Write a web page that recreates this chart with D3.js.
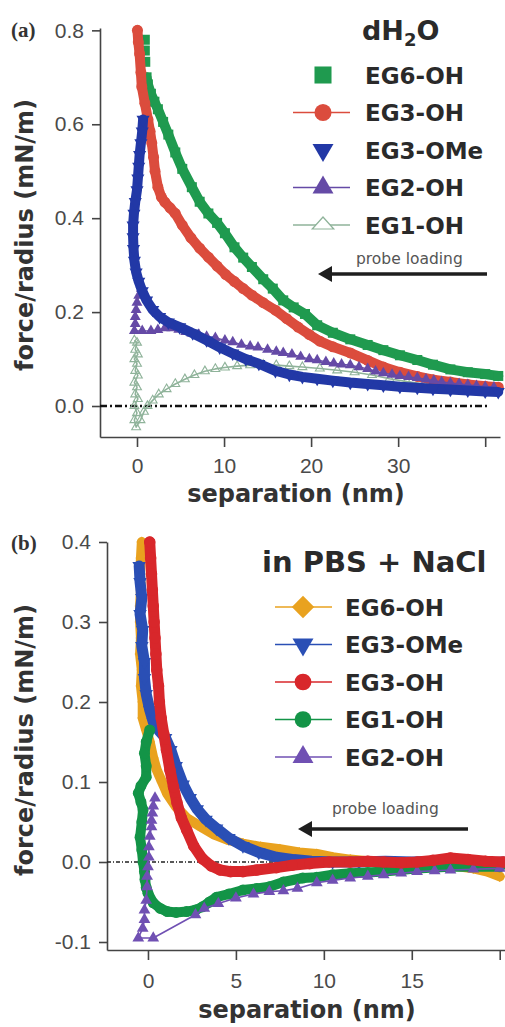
<!DOCTYPE html>
<html>
<head>
<meta charset="utf-8">
<script src="https://cdn.jsdelivr.net/npm/d3@7"></script>
<style>
  html, body { margin: 0; padding: 0; background: #fff; }
  svg { display: block; }
</style>
</head>
<body>
<svg id="fig" width="505" height="1027"></svg>
<script>
// ---------- Panel (a): force/radius vs separation in dH2O ----------
// [separation (nm), force/radius (mN/m)]
const aEG6_OH = [[0.9,0.78],[0.9,0.757],[0.95,0.733],[1.1,0.70],[1.25,0.685],[1.6,0.665],[2.0,0.648],[2.4,0.632],[3.0,0.605],[3.6,0.578],[4.4,0.54],[5.2,0.505],[6.3,0.466],[7.2,0.435],[8.2,0.41],[9.2,0.39],[10.1,0.368],[11.2,0.338],[12.2,0.316],[13.2,0.296],[14.5,0.27],[15.6,0.25],[16.8,0.225],[18.0,0.21],[19.3,0.196],[20.7,0.172],[22.5,0.156],[24.5,0.142],[26.5,0.13],[28.3,0.119],[30.2,0.108],[32.2,0.098],[34.0,0.088],[36.0,0.078],[38.0,0.072],[40.0,0.068],[41.5,0.064]];
const aEG3_OH = [[0.05,0.80],[0.15,0.775],[0.3,0.75],[0.45,0.71],[0.55,0.68],[0.9,0.645],[1.26,0.61],[1.5,0.585],[1.7,0.56],[1.9,0.53],[2.07,0.50],[2.4,0.466],[2.8,0.445],[3.2,0.434],[3.8,0.422],[4.4,0.41],[5.2,0.385],[6.2,0.358],[7.2,0.336],[8.2,0.317],[9.2,0.298],[10.2,0.28],[11.2,0.265],[12.2,0.25],[13.2,0.236],[14.5,0.22],[15.9,0.204],[17.2,0.186],[18.5,0.168],[19.8,0.152],[21.0,0.138],[22.5,0.126],[24.5,0.113],[26.5,0.097],[28.3,0.083],[30.2,0.072],[32.2,0.063],[34.0,0.056],[36.0,0.051],[38.0,0.046],[40.0,0.042],[41.5,0.04]];
const aEG3_OMe = [[0.7,0.61],[0.6,0.585],[0.45,0.56],[0.3,0.535],[0.2,0.51],[0.1,0.485],[0.0,0.46],[-0.2,0.435],[-0.35,0.41],[-0.45,0.385],[-0.45,0.36],[-0.4,0.335],[-0.3,0.31],[-0.1,0.285],[0.2,0.265],[0.6,0.245],[1.1,0.225],[1.8,0.205],[2.6,0.19],[3.6,0.178],[4.9,0.168],[6.4,0.155],[8.0,0.14],[9.5,0.125],[11.0,0.112],[12.5,0.1],[14.0,0.09],[15.9,0.075],[17.5,0.067],[19.0,0.062],[20.7,0.058],[22.5,0.054],[24.5,0.05],[26.5,0.047],[28.3,0.044],[30.2,0.041],[32.2,0.039],[34.0,0.037],[36.0,0.035],[38.0,0.033],[40.0,0.031],[41.5,0.03]];
const aEG2_OH = [[0.5,0.25],[0.2,0.235],[0.0,0.22],[-0.1,0.205],[-0.2,0.19],[-0.2,0.175],[-0.3,0.16],[0.6,0.16],[1.6,0.16],[2.4,0.162],[3.2,0.166],[4.0,0.166],[4.8,0.163],[5.6,0.158],[6.3,0.155],[7.1,0.152],[8.0,0.148],[9.0,0.145],[10.1,0.14],[11.0,0.136],[12.0,0.131],[13.0,0.127],[13.9,0.125],[15.0,0.12],[16.0,0.116],[16.8,0.113],[17.8,0.11],[18.8,0.105],[19.8,0.1],[20.7,0.098],[21.7,0.094],[22.6,0.091],[23.5,0.089],[24.5,0.087],[25.5,0.083],[26.5,0.079],[27.4,0.074],[28.3,0.07],[29.3,0.067],[30.2,0.064],[31.2,0.062],[32.2,0.06],[33.2,0.057],[34.1,0.054],[35.0,0.051],[36.0,0.049],[37.0,0.047],[38.0,0.045],[39.0,0.043],[40.0,0.041],[41.0,0.04]];
const aEG1_OH = [[-0.3,0.14],[0.0,0.135],[-0.2,0.12],[0.1,0.11],[-0.3,0.1],[0.0,0.09],[-0.2,0.075],[0.1,0.065],[-0.3,0.05],[0.0,0.04],[-0.2,0.025],[0.1,0.015],[-0.3,0.0],[0.0,-0.015],[-0.3,-0.03],[-0.1,-0.045],[0.4,-0.03],[0.8,-0.012],[1.2,0.0],[1.8,0.012],[2.5,0.025],[3.4,0.036],[4.4,0.047],[5.5,0.057],[6.6,0.066],[7.8,0.074],[9.0,0.079],[10.1,0.082],[11.5,0.085],[13.0,0.087],[14.5,0.088],[16.0,0.087],[17.5,0.085],[19.0,0.083],[21.0,0.08],[23.0,0.076],[25.0,0.072],[27.0,0.066],[29.0,0.058],[31.0,0.052],[33.0,0.047],[35.0,0.043],[37.0,0.04],[39.0,0.037],[41.0,0.035]];

// ---------- Panel (b): force/radius vs separation in PBS + NaCl ----------
const bEG6_OH = [[-0.35,0.40],[-0.4,0.38],[-0.45,0.36],[-0.4,0.34],[-0.45,0.32],[-0.45,0.30],[-0.4,0.28],[-0.45,0.26],[-0.35,0.24],[-0.4,0.22],[-0.3,0.20],[-0.3,0.18],[-0.1,0.165],[0.1,0.15],[0.3,0.13],[0.5,0.115],[0.8,0.1],[1.1,0.085],[1.6,0.069],[2.2,0.055],[3.0,0.044],[3.7,0.035],[4.5,0.028],[5.4,0.023],[6.4,0.019],[7.5,0.016],[8.6,0.012],[9.6,0.01],[10.5,0.006],[11.5,0.003],[12.5,0.001],[13.5,0.0],[14.5,-0.002],[15.5,-0.003],[16.5,-0.004],[17.5,-0.005],[18.5,-0.008],[19.3,-0.012],[20.0,-0.018]];
const bEG3_OMe = [[-0.5,0.37],[-0.45,0.35],[-0.35,0.33],[-0.45,0.31],[-0.3,0.29],[-0.35,0.27],[-0.2,0.25],[-0.2,0.23],[-0.1,0.21],[0.1,0.19],[0.3,0.175],[0.6,0.165],[1.0,0.155],[1.3,0.14],[1.6,0.12],[2.0,0.097],[2.4,0.08],[2.8,0.066],[3.3,0.053],[3.9,0.042],[4.6,0.03],[5.4,0.02],[6.3,0.012],[7.3,0.006],[8.3,0.003],[9.3,0.001],[10.5,0.0],[12.0,0.0],[13.5,0.001],[15.0,0.0],[16.5,0.001],[18.0,0.0],[19.5,-0.001],[20.2,0.0]];
const bEG3_OH = [[0.1,0.40],[0.15,0.38],[0.2,0.36],[0.25,0.34],[0.3,0.32],[0.35,0.30],[0.4,0.28],[0.45,0.26],[0.5,0.24],[0.6,0.22],[0.65,0.20],[0.75,0.18],[0.9,0.16],[1.05,0.14],[1.25,0.115],[1.45,0.094],[1.65,0.074],[1.9,0.055],[2.2,0.04],[2.6,0.02],[3.1,0.004],[3.6,-0.005],[4.1,-0.01],[4.7,-0.012],[5.4,-0.012],[6.2,-0.01],[7.3,-0.007],[8.2,-0.004],[9.2,-0.002],[10.3,0.0],[11.5,0.0],[12.5,0.001],[13.4,0.0],[14.4,-0.001],[15.3,0.0],[16.2,0.002],[17.2,0.005],[18.2,0.003],[19.2,0.001],[20.2,0.0]];
const bEG1_OH = [[0.1,0.165],[-0.1,0.15],[-0.2,0.136],[-0.1,0.12],[-0.1,0.106],[-0.4,0.095],[-0.55,0.086],[-0.4,0.075],[-0.28,0.065],[-0.35,0.05],[-0.45,0.031],[-0.35,0.015],[-0.28,0.0],[-0.2,-0.012],[-0.17,-0.022],[-0.1,-0.032],[0.0,-0.039],[0.3,-0.051],[0.7,-0.058],[1.1,-0.062],[1.6,-0.063],[2.2,-0.062],[2.7,-0.06],[3.1,-0.056],[3.5,-0.05],[3.9,-0.044],[4.6,-0.04],[5.4,-0.035],[6.2,-0.033],[6.9,-0.031],[7.7,-0.025],[8.8,-0.02],[9.6,-0.019],[10.5,-0.016],[11.5,-0.014],[12.5,-0.013],[13.4,-0.012],[14.4,-0.01],[15.3,-0.008],[16.3,-0.007],[17.2,-0.006],[18.5,-0.006],[20.0,-0.006]];
const bEG2_OH = [[0.4,0.08],[0.3,0.07],[0.25,0.061],[0.2,0.052],[0.2,0.044],[0.1,0.032],[0.05,0.019],[0.05,0.006],[0.0,-0.006],[-0.05,-0.018],[-0.05,-0.031],[-0.1,-0.048],[-0.2,-0.06],[-0.2,-0.072],[-0.3,-0.083],[-0.55,-0.095],[0.3,-0.095],[2.7,-0.066],[3.2,-0.058],[4.0,-0.052],[5.0,-0.045],[6.0,-0.04],[6.9,-0.037],[7.7,-0.036],[8.5,-0.033],[9.6,-0.026],[10.5,-0.023],[11.5,-0.02],[12.5,-0.018],[13.4,-0.016],[14.4,-0.014],[15.3,-0.012],[16.3,-0.011],[17.2,-0.01],[18.5,-0.009],[20.0,-0.008]];

// Axis ticks
const aYTicks = [0.0, 0.2, 0.4, 0.6, 0.8];
const aXTicks = [0, 10, 20, 30, 40];
const aXTickLabels = ["0", "10", "20", "30", ""];
const bYTicks = [-0.1, 0.0, 0.1, 0.2, 0.3, 0.4];
const bXTicks = [0, 5, 10, 15, 20];
const bXTickLabels = ["0", "5", "10", "15", ""];

// Text
const aTag = "(a)", bTag = "(b)";
const yTitle = "force/radius (mN/m)";
const xTitle = "separation (nm)";
const arrowText = "probe loading";
const bHeading = "in PBS + NaCl";
const aLegendNames = ["EG6-OH", "EG3-OH", "EG3-OMe", "EG2-OH", "EG1-OH"];
const bLegendNames = ["EG6-OH", "EG3-OMe", "EG3-OH", "EG1-OH", "EG2-OH"];

// ---------------------------------------------------------------
const svg = d3.select("#fig");
svg.append("rect").attr("width", 505).attr("height", 1027).attr("fill", "#fff");

const TICK_FONT = "'Liberation Sans', Arial, sans-serif";
const BOLD_FONT = "'DejaVu Sans', Verdana, sans-serif";
const fmtTick = v => (v < 0 ? "-" : "") + Math.abs(v).toFixed(1);

const sym = {
  square: d3.symbolSquare, circle: d3.symbolCircle,
  triangle: d3.symbolTriangle, diamond: d3.symbolSquare
};

function drawSeries(g, x, y, data, st) {
  const line = d3.line().x(d => x(d[0])).y(d => y(d[1]));
  if (st.band) {
    g.append("path").datum(data.slice(st.bandFrom || 0))
      .attr("d", line).attr("fill", "none")
      .attr("stroke", st.color).attr("stroke-width", st.band)
      .attr("stroke-linejoin", "round").attr("stroke-linecap", "round");
  }
  if (st.line) {
    g.append("path").datum(data)
      .attr("d", line).attr("fill", "none")
      .attr("stroke", st.lineColor || st.color).attr("stroke-width", st.line)
      .attr("stroke-linejoin", "round");
  }
  const shape = d3.symbol(sym[st.shape], st.size)();
  g.append("g").selectAll("path").data(data).join("path")
    .attr("transform", d => `translate(${x(d[0])},${y(d[1])}) rotate(${st.rot || 0})`)
    .attr("d", shape)
    .attr("fill", st.open ? "none" : st.color)
    .attr("stroke", st.open ? st.color : "none")
    .attr("stroke-width", st.open ? 1.1 : 0);
}

function drawAxes(g, x, y, yTicks, xTicks, xLabels, pad) {
  const ya = g.append("g").attr("transform", `translate(${x.range()[0]},0)`)
    .call(d3.axisLeft(y).tickValues(yTicks).tickFormat(fmtTick)
      .tickSize(8).tickSizeOuter(0).tickPadding(8));
  const xa = g.append("g").attr("transform", `translate(0,${y.range()[0]})`)
    .call(d3.axisBottom(x).tickValues(xTicks).tickFormat((d, i) => xLabels[i])
      .tickSize(10).tickSizeOuter(0).tickPadding(pad));
  [ya, xa].forEach(a => {
    a.select(".domain").attr("stroke", "#444").attr("stroke-width", 1.6);
    a.selectAll(".tick line").attr("stroke", "#444").attr("stroke-width", 1.6);
    a.selectAll("text").attr("font-family", TICK_FONT).attr("font-size", 21)
      .attr("fill", "#4a4a4a");
  });
}

function drawArrow(g, x1, x2, yy, label, tx, ty) {
  g.append("line").attr("x1", x2).attr("x2", x1 + 10).attr("y1", yy).attr("y2", yy)
    .attr("stroke", "#1e1e1e").attr("stroke-width", 3.5);
  g.append("path").attr("d", `M${x1},${yy} L${x1 + 14},${yy - 8} L${x1 + 14},${yy + 8} Z`)
    .attr("fill", "#1e1e1e");
  g.append("text").attr("x", tx).attr("y", ty).text(label)
    .attr("font-family", BOLD_FONT).attr("font-size", 15.5).attr("fill", "#555");
}

function drawLegend(g, names, styles, y0, dy, lx1, lx2, mx, tx) {
  names.forEach((n, i) => {
    const st = styles[i], yy = y0 + i * dy;
    if (st.lline) {
      g.append("line").attr("x1", lx1).attr("x2", lx2).attr("y1", yy).attr("y2", yy)
        .attr("stroke", st.lineColor || st.color).attr("stroke-width", 1.6);
    }
    g.append("path")
      .attr("transform", `translate(${mx},${yy}) rotate(${st.rot || 0})${st.flat ? " scale(1,0.65)" : ""}`)
      .attr("d", d3.symbol(sym[st.shape], st.lsize)())
      .attr("fill", st.open ? "#fff" : st.color)
      .attr("stroke", st.open ? st.color : "none").attr("stroke-width", 1.6);
    g.append("text").attr("x", tx).attr("y", yy + 8.5).text(n)
      .attr("font-family", BOLD_FONT).attr("font-weight", "bold")
      .attr("font-size", 23).attr("fill", "#2a2a2a");
  });
}

function yAxisTitle(g, cx, cy) {
  g.append("text").attr("transform", `translate(${cx},${cy}) rotate(-90)`)
    .attr("text-anchor", "middle").text(yTitle)
    .attr("font-family", BOLD_FONT).attr("font-weight", "bold")
    .attr("font-size", 24).attr("fill", "#333");
}
function xAxisTitle(g, cx, cy) {
  g.append("text").attr("x", cx).attr("y", cy)
    .attr("text-anchor", "middle").text(xTitle)
    .attr("font-family", BOLD_FONT).attr("font-weight", "bold")
    .attr("font-size", 24).attr("fill", "#333");
}
function tag(g, t, tx, ty) {
  g.append("text").attr("x", tx).attr("y", ty).text(t)
    .attr("font-family", "'Liberation Serif', 'Times New Roman', serif")
    .attr("font-weight", "bold").attr("font-size", 21).attr("fill", "#333");
}

// ------------------------- Panel (a) -------------------------
{
  const g = svg.append("g");
  const x = d3.scaleLinear().domain([-4.25, 41.7]).range([100, 500]);
  const y = d3.scaleLinear().domain([-0.066, 0.805]).range([437, 28]);

  drawAxes(g, x, y, aYTicks, aXTicks, aXTickLabels, 11);

  g.append("line").attr("x1", x.range()[0]).attr("x2", 490)
    .attr("y1", y(0)).attr("y2", y(0))
    .attr("stroke", "#111").attr("stroke-width", 2.4)
    .attr("stroke-dasharray", "7,3,2,3");

  const styles = {
    EG1: { color: "#8fb39a", shape: "triangle", size: 34, open: true, line: 1.6, lineColor: "#8fb39a", lsize: 200, lline: true, flat: true },
    EG6: { color: "#1f9a4f", shape: "square", size: 100, band: 10, bandFrom: 3, lsize: 290 },
    EG3: { color: "#db4c3d", shape: "circle", size: 95, band: 10, lsize: 230, lline: true },
    OMe: { color: "#2238a6", shape: "triangle", size: 75, rot: 180, band: 10, lsize: 190 },
    EG2: { color: "#654aa6", shape: "triangle", size: 52, line: 1.4, lsize: 190, lline: true }
  };
  drawSeries(g, x, y, aEG1_OH, styles.EG1);
  drawSeries(g, x, y, aEG6_OH, styles.EG6);
  drawSeries(g, x, y, aEG3_OH, styles.EG3);
  drawSeries(g, x, y, aEG2_OH, styles.EG2);
  drawSeries(g, x, y, aEG3_OMe, styles.OMe);

  drawArrow(g, 318, 487, 274, arrowText, 356, 264);

  // heading with subscript
  const h = g.append("text").attr("x", 362).attr("y", 40)
    .attr("font-family", BOLD_FONT).attr("font-weight", "bold")
    .attr("font-size", 27).attr("fill", "#2a2a2a");
  h.append("tspan").text("dH");
  h.append("tspan").text("2").attr("font-size", 18).attr("dy", 6);
  h.append("tspan").text("O").attr("dy", -6);

  drawLegend(g, aLegendNames,
    [styles.EG6, styles.EG3, styles.OMe, styles.EG2, styles.EG1],
    75, 37.5, 293, 350, 323, 365);

  yAxisTitle(g, 33, 235);
  xAxisTitle(g, 296, 502);
  tag(g, aTag, 11, 37);
}

// ------------------------- Panel (b) -------------------------
{
  const g = svg.append("g");
  const x = d3.scaleLinear().domain([-2.33, 20.3]).range([107, 505]);
  const y = d3.scaleLinear().domain([-0.11, 0.40]).range([950, 542]);

  drawAxes(g, x, y, bYTicks, bXTicks, bXTickLabels, 13);

  g.append("line").attr("x1", x.range()[0]).attr("x2", 500)
    .attr("y1", y(0)).attr("y2", y(0))
    .attr("stroke", "#222").attr("stroke-width", 1.6)
    .attr("stroke-dasharray", "4,2,1,2");

  const styles = {
    EG6: { color: "#e9a21f", shape: "diamond", size: 60, rot: 45, band: 10, lsize: 250, lline: true },
    OMe: { color: "#2a4fb5", shape: "triangle", size: 80, rot: 180, band: 11, lsize: 190, lline: true },
    EG3: { color: "#d8272b", shape: "circle", size: 105, band: 11, lsize: 220, lline: true },
    EG1: { color: "#139447", shape: "circle", size: 95, band: 10, lsize: 220, lline: true },
    EG2: { color: "#7050b3", shape: "triangle", size: 60, line: 1.6, lsize: 190, lline: true }
  };
  drawSeries(g, x, y, bEG6_OH, styles.EG6);
  drawSeries(g, x, y, bEG3_OMe, styles.OMe);
  drawSeries(g, x, y, bEG1_OH, styles.EG1);
  drawSeries(g, x, y, bEG2_OH, styles.EG2);
  drawSeries(g, x, y, bEG3_OH, styles.EG3);

  drawArrow(g, 298, 468, 829, arrowText, 332, 814);

  g.append("text").attr("x", 262).attr("y", 572).text(bHeading)
    .attr("font-family", BOLD_FONT).attr("font-weight", "bold")
    .attr("font-size", 29).attr("fill", "#2a2a2a");

  drawLegend(g, bLegendNames,
    [styles.EG6, styles.OMe, styles.EG3, styles.EG1, styles.EG2],
    607, 37.5, 275, 332, 303, 345);

  yAxisTitle(g, 33, 740);
  xAxisTitle(g, 307, 1018);
  tag(g, bTag, 11, 550);
}
</script>
</body>
</html>
